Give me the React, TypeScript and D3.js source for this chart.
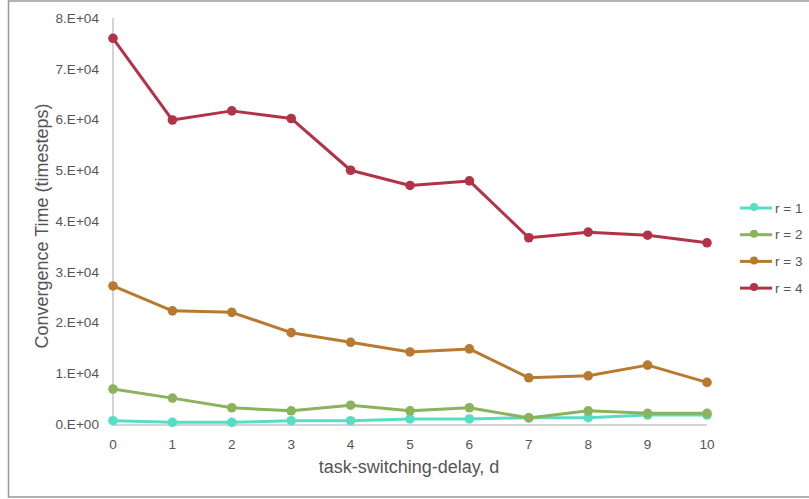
import React from "react";
import * as d3 from "d3";

const delays = [0, 1, 2, 3, 4, 5, 6, 7, 8, 9, 10];
const r1 = [650, 330, 330, 650, 650, 990, 990, 1240, 1240, 1770, 1770];
const r2 = [6900, 5100, 3200, 2600, 3700, 2600, 3200, 1200, 2600, 2100, 2100];
const r3 = [27200, 22300, 22000, 18000, 16100, 14200, 14800, 9100, 9500, 11600, 8200];
const r4 = [76000, 59900, 61700, 60200, 50000, 47000, 47900, 36700, 37800, 37200, 35700];
const seriesNames = ["r = 1", "r = 2", "r = 3", "r = 4"];
const colors = ["#55DEC4", "#8BB35C", "#B87A2E", "#B23347"];
const yTicks = [0, 10000, 20000, 30000, 40000, 50000, 60000, 70000, 80000];
const yTickLabels = ["0.E+00", "1.E+04", "2.E+04", "3.E+04", "4.E+04", "5.E+04", "6.E+04", "7.E+04", "8.E+04"];

export default function App() {
  const W = 809, H = 499;
  const x = d3.scaleLinear().domain([0, 10]).range([113, 707]);
  const y = d3.scaleLinear().domain([0, 80000]).range([424, 18]);
  const all = [r1, r2, r3, r4];
  const line = d3.line<number>().x((_, i) => x(delays[i])).y((v) => y(v));
  const font = "'Liberation Sans', Arial, sans-serif";
  return (
    <svg width={W} height={H} style={{ position: "absolute", left: 0, top: 0 }} fontFamily={font}>
      <rect x={8.5} y={1} width={830} height={496} fill="white" stroke="#999" strokeWidth={1.5} />
      <line x1={x(0)} x2={x(0)} y1={y(80000)} y2={y(0)} stroke="#c4c4c4" strokeWidth={1.5} />
      <line x1={x(0)} x2={x(10)} y1={y(0) + 1} y2={y(0) + 1} stroke="#c4c4c4" strokeWidth={1.5} />
      {yTicks.map((t, i) => (
        <text key={t} x={99} y={y(t)} dy="0.35em" textAnchor="end" fontSize={13.6} fill="#555">
          {yTickLabels[i]}
        </text>
      ))}
      {delays.map((d) => (
        <text key={d} x={x(d)} y={444} dy="0.35em" textAnchor="middle" fontSize={13.6} fill="#555">
          {d}
        </text>
      ))}
      <text x={409} y={467} dy="0.35em" textAnchor="middle" fontSize={18} fill="#555">
        task-switching-delay, d
      </text>
      <text transform="translate(42,226) rotate(-90)" textAnchor="middle" dy="0.35em" fontSize={18} fill="#555">
        Convergence Time (timesteps)
      </text>
      {all.map((s, k) => (
        <g key={k}>
          <path d={line(s) || ""} fill="none" stroke={colors[k]} strokeWidth={3} strokeLinejoin="round" />
          {s.map((v, i) => (
            <circle key={i} cx={x(delays[i])} cy={y(v)} r={4.8} fill={colors[k]} />
          ))}
        </g>
      ))}
      {seriesNames.map((n, k) => {
        const ly = 208 + k * 26.7;
        return (
          <g key={n}>
            <line x1={740} x2={772} y1={ly} y2={ly} stroke={colors[k]} strokeWidth={3} />
            <circle cx={754} cy={ly - 1} r={4} fill={colors[k]} />
            <text x={775} y={ly} dy="0.35em" fontSize={13.5} fill="#555">{n}</text>
          </g>
        );
      })}
    </svg>
  );
}
